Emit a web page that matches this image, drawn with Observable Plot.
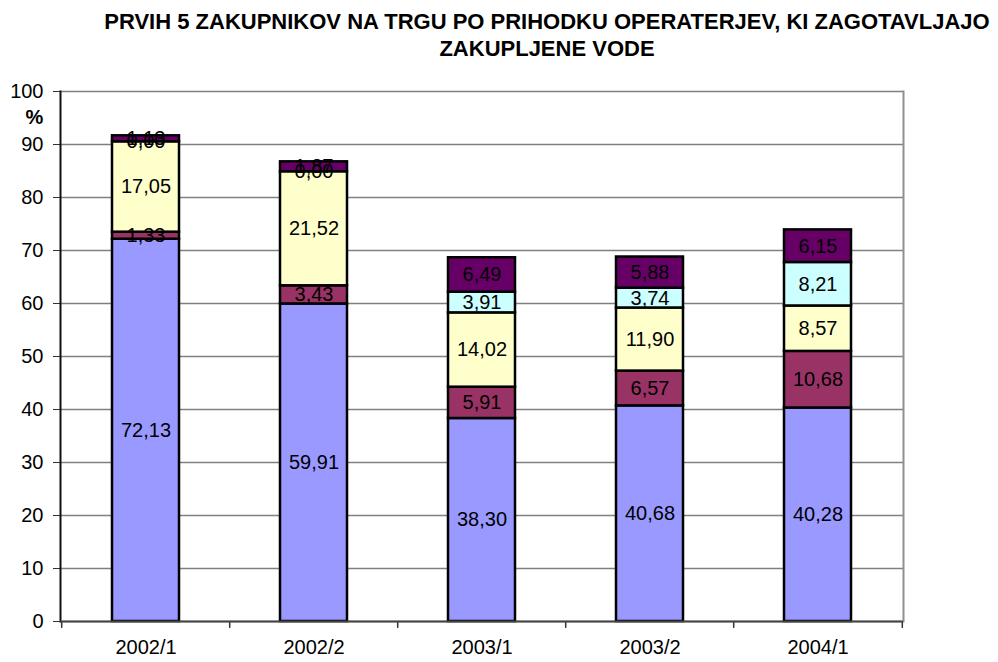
<!DOCTYPE html>
<html>
<head>
<meta charset="utf-8">
<script src="https://cdn.jsdelivr.net/npm/d3@7"></script>
<script src="https://cdn.jsdelivr.net/npm/@observablehq/plot@0.6"></script>
<style>
  body { margin: 0; background: #fff; font-family: "Liberation Sans", Arial, sans-serif; }
  #title { box-sizing: border-box; width: 998px; height: 70px; padding: 8px 0 0 96px; text-align: center;
           font-weight: bold; font-size: 22px; line-height: 27px; color: #000; white-space: nowrap; }
</style>
</head>
<body>
<div id="title">PRVIH 5 ZAKUPNIKOV NA TRGU PO PRIHODKU OPERATERJEV, KI ZAGOTAVLJAJO<br>ZAKUPLJENE VODE</div>
<div id="chart"></div>
<script>
const categories = ["2002/1", "2002/2", "2003/1", "2003/2", "2004/1"];
const seriesNames = ["Zakupnik 1", "Zakupnik 2", "Zakupnik 3", "Zakupnik 4", "Zakupnik 5"];
const s1 = [72.13, 59.91, 38.30, 40.68, 40.28];
const s2 = [1.33, 3.43, 5.91, 6.57, 10.68];
const s3 = [17.05, 21.52, 14.02, 11.90, 8.57];
const s4 = [0.00, 0.00, 3.91, 3.74, 8.21];
const s5 = [1.13, 1.87, 6.49, 5.88, 6.15];
const yTicks = [0, 10, 20, 30, 40, 50, 60, 70, 80, 90, 100];
const colors = ["#9999FF", "#993366", "#FFFFCC", "#CCFFFF", "#660066"];

const seriesValues = [s1, s2, s3, s4, s5];
const data = [];
categories.forEach((c, i) => {
  seriesValues.forEach((s, j) => data.push({category: c, series: seriesNames[j], value: s[i]}));
});
const fmt = v => v.toFixed(2).replace(".", ",");
const halfStep = (998 - 60 - 95) / categories.length / 2;

const plot = Plot.plot({
  width: 998,
  height: 592,
  marginTop: 21,
  marginBottom: 41,
  marginLeft: 60,
  marginRight: 95,
  style: {fontFamily: "'Liberation Sans', Arial, sans-serif", fontSize: "20px", color: "#000", background: "#fff"},
  x: {domain: categories, paddingInner: 0.6, paddingOuter: 0.3, label: null},
  y: {domain: [0, 100], label: null},
  color: {domain: seriesNames, range: colors},
  marks: [
    Plot.gridY(yTicks, {stroke: "#808080", strokeOpacity: 1, strokeWidth: 1.5}),
    Plot.frame({anchor: "right", stroke: "#909090", strokeWidth: 2}),
    Plot.axisY(yTicks, {tickSize: 7, tickPadding: 10, fontSize: 20, label: null, stroke: "#333"}),
    Plot.axisX({tickSize: 0, tickPadding: 18, fontSize: 20, label: null}),
    Plot.frame({anchor: "left", stroke: "#111", strokeWidth: 2}),
    Plot.ruleX(categories, {x: d => d, dx: -halfStep, y1: 0, y2: -1.3, stroke: "#333", strokeWidth: 1.5}),
    Plot.ruleX(categories.slice(-1), {x: d => d, dx: halfStep, y1: 0, y2: -1.3, stroke: "#333", strokeWidth: 1.5}),
    Plot.barY(data, Plot.stackY({x: "category", y: "value", fill: "series", order: null, stroke: "#000", strokeWidth: 2.5})),
    Plot.ruleY([0], {stroke: "#444", strokeWidth: 2}),
    Plot.text(data, Plot.stackY({x: "category", y: "value", z: "series", order: null, text: d => fmt(d.value), fill: "#000", fontSize: 20})),
    Plot.text(["%"], {frameAnchor: "top-left", lineAnchor: "middle", dx: -35, dy: 26, fontWeight: "bold", fontSize: 20, fill: "#000"})
  ]
});
document.getElementById("chart").appendChild(plot);
</script>
</body>
</html>
